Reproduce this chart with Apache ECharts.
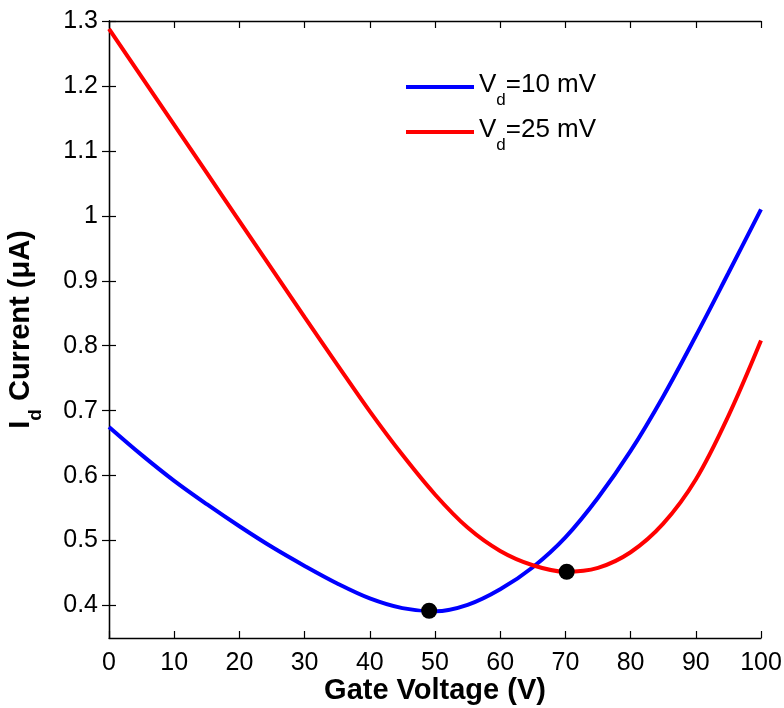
<!DOCTYPE html>
<html>
<head>
<meta charset="utf-8">
<script src="https://cdn.jsdelivr.net/npm/echarts@6/dist/echarts.min.js"></script>
<style>
  html, body { margin: 0; padding: 0; background: #fff; }
  #chart { width: 784px; height: 708px; }
</style>
</head>
<body>
<div id="chart"></div>
<script>
// Gate voltage sweep (V)
const gateVoltage = [0, 5, 10, 15, 20, 25, 30, 35, 40, 45, 50, 55, 60, 65, 70, 75, 80, 85, 90, 95, 100];
// Drain current (uA) at Vd = 10 mV
const currentVd10 = [0.675, 0.632, 0.592, 0.556, 0.522, 0.490, 0.461, 0.434, 0.411, 0.396, 0.391, 0.401, 0.425, 0.459, 0.505, 0.566, 0.638, 0.722, 0.815, 0.912, 1.010];
// Drain current (uA) at Vd = 25 mV
const currentVd25 = [1.288, 1.214, 1.140, 1.066, 0.992, 0.918, 0.844, 0.771, 0.699, 0.632, 0.571, 0.520, 0.484, 0.462, 0.452, 0.458, 0.482, 0.526, 0.594, 0.692, 0.808];
// Dirac points (minimum conductance) of each sweep
const minimaPoints = [[49.1, 0.392], [70.2, 0.452]];
// Axis ticks
const yTicks = [0.4, 0.5, 0.6, 0.7, 0.8, 0.9, 1.0, 1.1, 1.2, 1.3];
const seriesNames = ['Vd10', 'Vd25'];
const legendLabels = { Vd10: '=10 mV', Vd25: '=25 mV' };

const FONT = '"Liberation Sans", Arial, Helvetica, sans-serif';
const pair = (xs, ys) => xs.map((x, i) => [x, ys[i]]);

const chart = echarts.init(document.getElementById('chart'), null, { renderer: 'canvas' });

const axisLine = { show: true, lineStyle: { color: '#000', width: 1.3 } };
const tickStyle = { show: true, inside: true, length: 7, lineStyle: { color: '#000', width: 1.2 } };

chart.setOption({
  animation: false,
  backgroundColor: '#fff',
  textStyle: { fontFamily: FONT },
  grid: { left: 109, right: 23, top: 21, bottom: 70, containLabel: false, outerBoundsMode: 'none' },
  legend: {
    orient: 'vertical',
    left: 406,
    top: 72,
    padding: 0,
    itemGap: 8,
    icon: 'rect',
    itemWidth: 68,
    itemHeight: 4,
    data: seriesNames,
    formatter: name => '{v|V}{s|d}{t|' + legendLabels[name] + '}',
    textStyle: {
      padding: [0, 0, 0, 0],
      rich: {
        v: { fontSize: 26, color: '#000', fontFamily: FONT, verticalAlign: 'top', lineHeight: 30 },
        s: { fontSize: 17, color: '#000', fontFamily: FONT, verticalAlign: 'top', lineHeight: 17, padding: [20, 0, 0, 0] },
        t: { fontSize: 26, color: '#000', fontFamily: FONT, verticalAlign: 'top', lineHeight: 30 }
      }
    }
  },
  xAxis: [{
    type: 'value',
    min: 0, max: 100, interval: 10,
    axisLine: axisLine,
    axisTick: tickStyle,
    splitLine: { show: false },
    axisLabel: { color: '#000', fontSize: 25, fontFamily: FONT, margin: 13 },
    name: 'Gate Voltage (V)',
    nameLocation: 'middle',
    nameGap: 38,
    nameMoveOverlap: false,
    nameTextStyle: { color: '#000', fontSize: 29, fontWeight: 'bold', fontFamily: FONT }
  }, {
    type: 'value', position: 'top',
    min: 0, max: 100, interval: 10,
    axisLine: axisLine, axisTick: tickStyle,
    axisLabel: { show: false }, splitLine: { show: false }
  }],
  yAxis: [{
    type: 'value',
    min: 0.35, max: 1.3,
    axisLine: axisLine,
    axisTick: Object.assign({}, tickStyle, { customValues: yTicks }),
    splitLine: { show: false },
    axisLabel: {
      color: '#000', fontSize: 25, fontFamily: FONT, margin: 11,
      customValues: yTicks,
      formatter: v => String(+(+v).toFixed(1))
    },
    name: '{a|I}{s|d}{a| Current (μA)}',
    nameLocation: 'middle',
    nameRotate: 90,
    nameGap: 71,
    nameTextStyle: {
      rich: {
        a: { fontSize: 29, fontWeight: 'bold', color: '#000', fontFamily: FONT, verticalAlign: 'top', lineHeight: 32 },
        s: { fontSize: 19, fontWeight: 'bold', color: '#000', fontFamily: FONT, verticalAlign: 'top', lineHeight: 19, padding: [20, 0, 0, 0] }
      }
    }
  }, {
    type: 'value', position: 'right',
    min: 0.35, max: 1.3,
    axisLine: axisLine,
    axisTick: Object.assign({}, tickStyle, { customValues: yTicks }),
    axisLabel: { show: false }, splitLine: { show: false }
  }],
  series: [{
    name: 'Vd10',
    type: 'line',
    data: pair(gateVoltage, currentVd10),
    smooth: 0.35,
    symbol: 'none',
    color: '#0000ff',
    lineStyle: { color: '#0000ff', width: 4 },
    z: 3
  }, {
    name: 'Vd25',
    type: 'line',
    data: pair(gateVoltage, currentVd25),
    smooth: 0.35,
    symbol: 'none',
    color: '#ff0000',
    lineStyle: { color: '#ff0000', width: 4 },
    z: 3
  }, {
    name: 'minima',
    type: 'scatter',
    data: minimaPoints,
    symbol: 'circle',
    symbolSize: 16,
    itemStyle: { color: '#000', opacity: 1 },
    z: 5
  }]
});
</script>
</body>
</html>
